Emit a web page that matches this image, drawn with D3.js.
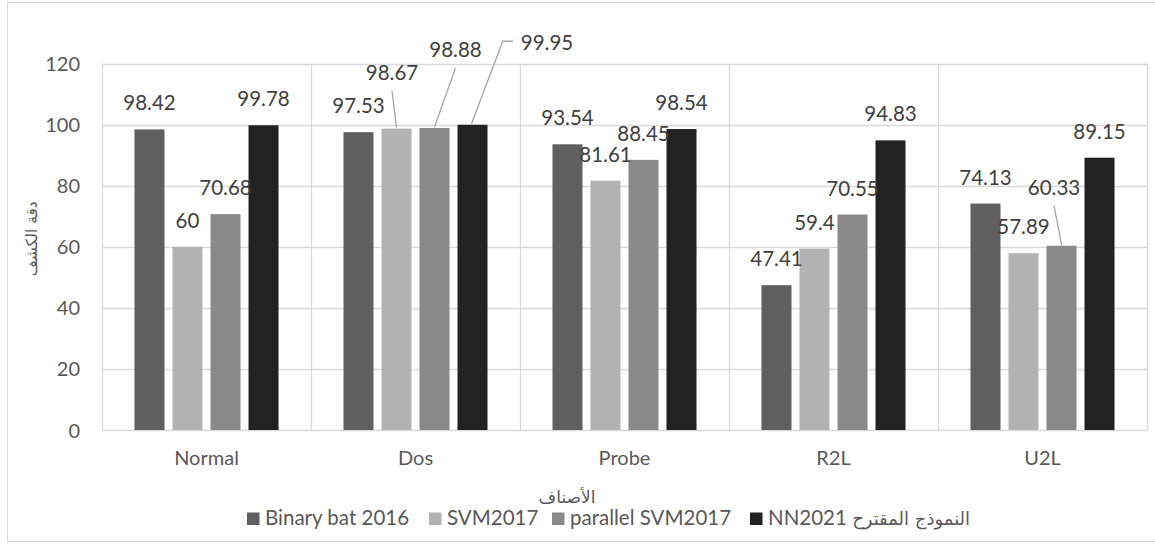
<!DOCTYPE html>
<html>
<head>
<meta charset="utf-8">
<script src="https://cdn.jsdelivr.net/npm/d3@7/dist/d3.min.js"></script>
<style>
  html, body { margin: 0; padding: 0; background: #fff; }
  svg { display: block; }
</style>
</head>
<body>
<div id="chart"></div>
<script>
// ---- data ----
const categories = ["Normal", "Dos", "Probe", "R2L", "U2L"];
const seriesNames = ["Binary bat 2016", "SVM2017", "parallel SVM2017", "NN2021 النموذج المقترح"];
const binaryBat2016 = [98.42, 97.53, 93.54, 47.41, 74.13];
const svm2017 = [60, 98.67, 81.61, 59.4, 57.89];
const parallelSvm2017 = [70.68, 98.88, 88.45, 70.55, 60.33];
const nn2021 = [99.78, 99.95, 98.54, 94.83, 89.15];
const yTicks = [0, 20, 40, 60, 80, 100, 120];
const yTitle = "دقة الكشف";
const xTitle = "الأصناف";

// ---- layout / style ----
const W = 1155, H = 545;
const colors = ["#5f5f5f", "#b2b2b2", "#898989", "#222222"];
const plot = { left: 102, right: 1147, top: 63.5, bottom: 430 };
const legendX = [247, 429, 552, 750];
// moved data labels (series index, category index) -> offset from default position
const labelMoves = {
  "1-1": { dx: -4.5, dy: -30 },
  "2-1": { dx: 21, dy: -52 },
  "3-1": { dx: 74.5, dy: -56, side: true },
  "2-4": { dx: -7.5, dy: -32 }
};

const seriesValues = [binaryBat2016, svm2017, parallelSvm2017, nn2021];
const latinFont = "Lato, 'Open Sans', sans-serif";
const arabicFont = "'DejaVu Sans', sans-serif";

const svg = d3.select("#chart").append("svg")
  .attr("width", W).attr("height", H);

svg.append("rect").attr("x", 7.5).attr("y", 2.5).attr("width", 1160).attr("height", 539)
  .attr("fill", "#fff").attr("stroke", "#d9d9d9").attr("stroke-width", 1);

const x0 = d3.scaleBand().domain(categories).range([plot.left, plot.right]).padding(0);
const x1 = d3.scaleBand().domain(d3.range(seriesNames.length))
  .range([0, x0.bandwidth()]).paddingInner(0.2105).paddingOuter(0.855);
const y = d3.scaleLinear().domain([0, 120]).range([plot.bottom, plot.top]);

// horizontal gridlines
svg.append("g").selectAll("line").data(yTicks).join("line")
  .attr("x1", plot.left).attr("x2", plot.right)
  .attr("y1", d => Math.round(y(d)) + 0.5).attr("y2", d => Math.round(y(d)) + 0.5)
  .attr("stroke", "#d9d9d9").attr("stroke-width", 1.3);

// vertical gridlines at category boundaries
const bounds = categories.map(c => x0(c)).concat([plot.right]);
svg.append("g").selectAll("line").data(bounds).join("line")
  .attr("x1", d => Math.round(d) + 0.5).attr("x2", d => Math.round(d) + 0.5)
  .attr("y1", y(120)).attr("y2", y(0))
  .attr("stroke", "#d9d9d9").attr("stroke-width", 1.3);

// y axis labels
const yAxis = d3.axisLeft(y).tickValues(yTicks).tickSize(0).tickPadding(0);
const gy = svg.append("g").attr("transform", `translate(80,0)`).call(yAxis);
gy.select(".domain").remove();
gy.selectAll("text").attr("font-family", latinFont)
  .attr("font-size", 20).attr("fill", "#595959").attr("dy", "0.35em");

// x axis labels
const xAxis = d3.axisBottom(x0).tickSize(0).tickPadding(0);
const gx = svg.append("g").attr("transform", `translate(0,${plot.bottom + 23})`).call(xAxis);
gx.select(".domain").remove();
gx.selectAll("text").attr("font-family", latinFont)
  .attr("font-size", 20).attr("fill", "#595959").attr("dy", "0.6em");

// bars
const flat = [];
seriesValues.forEach((vals, s) => vals.forEach((v, c) => flat.push({ s, c, v })));
svg.append("g").selectAll("rect").data(flat).join("rect")
  .attr("x", d => x0(categories[d.c]) + x1(d.s))
  .attr("y", d => y(d.v))
  .attr("width", x1.bandwidth())
  .attr("height", d => y(0) - y(d.v))
  .attr("fill", d => colors[d.s]);

// data labels + leader lines
const labelG = svg.append("g");
flat.forEach(d => {
  const cx = x0(categories[d.c]) + x1(d.s) + x1.bandwidth() / 2;
  const top = y(d.v);
  const mv = labelMoves[d.s + "-" + d.c] || { dx: 0, dy: 0 };
  const lx = cx + mv.dx, ly = top - 19 + mv.dy;
  const t = labelG.append("text")
    .attr("x", lx).attr("y", ly)
    .attr("text-anchor", "middle")
    .attr("font-family", latinFont)
    .attr("font-size", 20.5).attr("fill", "#404040")
    .text(String(d.v));
  if (labelMoves[d.s + "-" + d.c]) {
    const w = t.node().getComputedTextLength();
    let pts;
    if (mv.side) {
      const sx = lx - w / 2 - 8, sy = ly - 8.5;
      pts = [[sx, sy], [sx - 10, sy], [cx - 1, top - 1]];
    } else {
      pts = [[lx, ly + 11], [cx, top - 1]];
    }
    labelG.append("path")
      .attr("d", d3.line()(pts))
      .attr("fill", "none").attr("stroke", "#a6a6a6").attr("stroke-width", 1.3);
  }
});

// axis titles
svg.append("text")
  .attr("transform", `translate(37,${(plot.top + plot.bottom) / 2 - 8}) rotate(-90)`)
  .attr("text-anchor", "middle")
  .attr("font-family", arabicFont)
  .attr("font-size", 15.5).attr("fill", "#595959")
  .attr("direction", "rtl")
  .text(yTitle);

svg.append("text")
  .attr("x", 567).attr("y", 503)
  .attr("text-anchor", "middle")
  .attr("font-family", arabicFont)
  .attr("font-size", 17).attr("fill", "#595959")
  .attr("direction", "rtl")
  .text(xTitle);

// legend
const arabicRe = /[\u0600-\u06FF][\u0600-\u06FF\s]*/g;
function runs(str) {
  const out = [];
  let last = 0, m;
  arabicRe.lastIndex = 0;
  while ((m = arabicRe.exec(str)) !== null) {
    if (m.index > last) out.push({ t: str.slice(last, m.index), ar: false });
    out.push({ t: m[0], ar: true });
    last = m.index + m[0].length;
  }
  if (last < str.length) out.push({ t: str.slice(last), ar: false });
  return out;
}
const legend = svg.append("g");
seriesNames.forEach((name, i) => {
  const g = legend.append("g").attr("transform", `translate(${legendX[i]},525)`);
  g.append("rect").attr("width", 12.5).attr("height", 12.5).attr("y", -12.5).attr("fill", colors[i]);
  const t = g.append("text").attr("x", 18).attr("y", 0)
    .attr("fill", "#595959")
    .attr("direction", "ltr");
  runs(name).forEach(r => {
    t.append("tspan")
      .attr("font-family", r.ar ? arabicFont : latinFont)
      .attr("font-size", r.ar ? 18 : 20.5)
      .text(r.t);
  });
});
</script>
</body>
</html>
